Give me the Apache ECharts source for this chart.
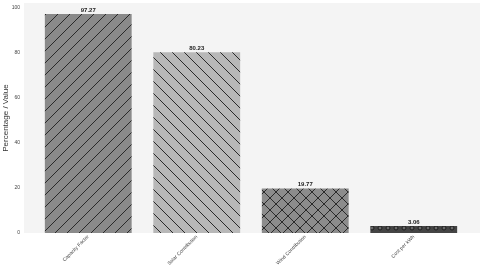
<!DOCTYPE html>
<html><head><meta charset="utf-8">
<script src="https://cdn.jsdelivr.net/npm/echarts@6/dist/echarts.min.js"></script>
<style>html,body{margin:0;padding:0;background:#fff}#c{width:480px;height:270px}</style>
</head><body><div id="c"></div>
<script>
const categories = ['Capacity Factor', 'Solar Contribution', 'Wind Contribution', 'Cost per kWh'];
const values = [97.27, 80.23, 19.77, 3.06];
const yTicks = [0, 20, 40, 60, 80, 100];

function pattern(base, kind) {
  const s = kind === 'dots' ? 8 : 12;
  const c = document.createElement('canvas');
  c.width = s; c.height = s;
  const g = c.getContext('2d');
  g.fillStyle = base; g.fillRect(0, 0, s, s);
  g.strokeStyle = '#2a2a2a'; g.lineWidth = 1;
  function line(x1, y1, x2, y2) { g.beginPath(); g.moveTo(x1, y1); g.lineTo(x2, y2); g.stroke(); }
  if (kind === 'fwd' || kind === 'cross') {
    line(-1, s + 1, s + 1, -1); line(-1, 1, 1, -1); line(s - 1, s + 1, s + 1, s - 1);
  }
  if (kind === 'back' || kind === 'cross') {
    line(-1, -1, s + 1, s + 1); line(s - 1, -1, s + 1, 1); line(-1, s - 1, 1, s + 1);
  }
  if (kind === 'dots') {
    g.strokeStyle = '#1e1e1e';
    g.beginPath(); g.arc(s / 2, s / 2, 2, 0, Math.PI * 2); g.fillStyle = '#6a6a6a'; g.fill(); g.stroke();
  }
  return { image: c, repeat: 'repeat' };
}
const fills = [pattern('#8a8a8a', 'fwd'), pattern('#b8b8b8', 'back'), pattern('#8c8c8c', 'cross'), pattern('#444444', 'dots')];

const chart = echarts.init(document.getElementById('c'), null, { renderer: 'canvas' });
chart.setOption({
  animation: false,
  backgroundColor: '#ffffff',
  textStyle: { fontFamily: 'Liberation Sans, Arial, sans-serif' },
  graphic: [{ type: 'rect', z: -10, silent: true, shape: { x: 24, y: 3, width: 456, height: 230 }, style: { fill: '#f4f4f4' } }],
  grid: { left: 34, right: 12, top: 3, bottom: 37, outerBoundsMode: 'none', containLabel: false },
  xAxis: {
    type: 'category', data: categories,
    axisLine: { show: false }, axisTick: { show: false }, splitLine: { show: false },
    axisLabel: { rotate: 45, fontSize: 5, color: '#444', margin: 3, interval: 0 }
  },
  yAxis: {
    type: 'value', min: 0, max: 102.13, interval: 20,
    name: 'Percentage / Value', nameLocation: 'middle', nameGap: 24, nameMoveOverlap: false,
    nameTextStyle: { fontSize: 8, color: '#333' },
    axisLine: { show: false }, axisTick: { show: false }, splitLine: { show: false },
    axisLabel: { fontSize: 5, color: '#444', margin: 14, formatter: v => (yTicks.indexOf(v) >= 0 ? String(v) : '') }
  },
  series: [{
    type: 'bar', barWidth: '80%',
    data: values.map((v, i) => ({ value: v, itemStyle: { color: fills[i] } })),
    label: { show: true, position: 'top', distance: 1, fontSize: 6, fontWeight: 'bold', color: '#222',
      formatter: p => p.value.toFixed(2) }
  }]
});
</script></body></html>
